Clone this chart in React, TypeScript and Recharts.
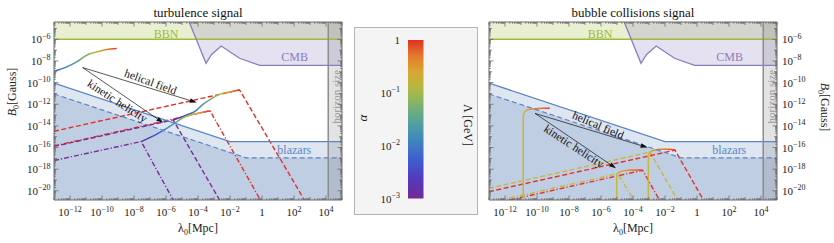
import React from 'react';
import { ComposedChart, Line, Area, XAxis, YAxis, ReferenceDot, ReferenceLine } from 'recharts';

type P = { x: number; y: number };

const SERIF = '"Liberation Serif", "DejaVu Serif", serif';
const FRAME = '#6a6a6a';
const RED = '#e2302a';
const PURPLE = '#7a2c96';
const YELLOW = '#c7b83c';
const DASH = '5 2.5';
const DASHDOT = '5 2 1.2 2';

// everything is log10: x = log10(λ0 / Mpc), y = log10(B0 / Gauss)
const X_MIN = -13;
const X_MAX = 5;
const Y_MIN = -20.85;
const Y_MAX = -4.4;

const xTickExps = [-12, -10, -8, -6, -4, -2, 0, 2, 4];
const yTickExps = [-20, -18, -16, -14, -12, -10, -8, -6];
const alphaTickExps = [0, -1, -2, -3];
const lambdaLabels = ['545', '553', '640', '850'];

// bounds, same in both panels
const bbnBound: P[] = [{ x: -13, y: -6 }, { x: 5, y: -6 }];
const cmbBound: P[] = [
  { x: -4.55, y: -4.4 }, { x: -3.5, y: -8.22 }, { x: -3.15, y: -7.4 }, { x: -2.55, y: -6.62 },
  { x: -1.4, y: -7.75 }, { x: -0.15, y: -8.4 }, { x: 5, y: -8.4 },
];
const horizonEdge: P[] = [{ x: 4.14, y: Y_MIN }, { x: 4.14, y: Y_MAX }];
const horizonBand: P[] = [{ x: 4.14, y: Y_MAX }, { x: 5, y: Y_MAX }];
const blazarSolid: P[] = [{ x: -13, y: -10.05 }, { x: -2.0, y: -15.45 }, { x: 5, y: -15.45 }];
const blazarDashed: P[] = [{ x: -13, y: -11.05 }, { x: -1.0, y: -16.95 }, { x: 5, y: -16.95 }];

// turbulence signal
const turbHelicalRed: P[] = [{ x: -13, y: -14.5 }, { x: -1.4, y: -10.68 }, { x: 2.65, y: -20.85 }];
const turbKineticRed: P[] = [{ x: -13, y: -15.85 }, { x: -3.25, y: -12.6 }, { x: -0.1, y: -20.85 }];
const turbHelicalPurple: P[] = [{ x: -13, y: -15.9 }, { x: -5.55, y: -13.45 }, { x: -2.65, y: -20.85 }];
const turbKineticPurple: P[] = [{ x: -13, y: -17.2 }, { x: -7.55, y: -15.45 }, { x: -5.55, y: -20.85 }];
const turbHelicalPeaks: P[] = [
  { x: -5.55, y: -13.45 }, { x: -4.71, y: -13.0 }, { x: -4.08, y: -12.55 }, { x: -3.77, y: -12.1 },
  { x: -3.14, y: -11.47 }, { x: -2.62, y: -11.07 }, { x: -2.0, y: -10.86 }, { x: -1.4, y: -10.68 },
];
const turbKineticPeaks: P[] = [
  { x: -7.55, y: -15.45 }, { x: -6.69, y: -14.85 }, { x: -6.06, y: -14.33 }, { x: -5.33, y: -13.62 },
  { x: -4.81, y: -13.16 }, { x: -4.08, y: -12.85 }, { x: -3.56, y: -12.7 }, { x: -3.25, y: -12.6 },
];
const turbTopLocus: P[] = [
  { x: -13, y: -8.95 }, { x: -12.21, y: -8.55 }, { x: -11.58, y: -8.09 }, { x: -10.96, y: -7.47 },
  { x: -10.33, y: -7.17 }, { x: -9.71, y: -6.95 }, { x: -9.08, y: -6.85 },
];

// bubble collisions signal
const bubHelicalYellow: P[] = [{ x: -13, y: -19.77 }, { x: -2.95, y: -16.42 }, { x: -1.2, y: -20.85 }];
const bubHelicalRed: P[] = [{ x: -13, y: -20.08 }, { x: -1.375, y: -16.24 }, { x: 0.4, y: -20.85 }];
const bubKineticYellow: P[] = [{ x: -12.3, y: -20.85 }, { x: -4.95, y: -18.42 }, { x: -3.95, y: -20.85 }];
const bubKineticRed: P[] = [{ x: -11.7, y: -20.85 }, { x: -3.4, y: -18.1 }, { x: -2.35, y: -20.85 }];
const bubHelicalPeaks: P[] = [
  { x: -3.04, y: -20.85 }, { x: -3.04, y: -16.8 }, { x: -2.98, y: -16.45 }, { x: -2.8, y: -16.3 },
  { x: -2.4, y: -16.17 }, { x: -1.8, y: -16.15 }, { x: -1.375, y: -16.24 },
];
const bubKineticPeaks: P[] = [
  { x: -5.02, y: -20.85 }, { x: -5.02, y: -18.65 }, { x: -4.95, y: -18.35 }, { x: -4.7, y: -18.18 },
  { x: -4.2, y: -18.08 }, { x: -3.7, y: -18.07 }, { x: -3.4, y: -18.1 },
];
const bubTopLocus: P[] = [
  { x: -10.86, y: -20.85 }, { x: -10.86, y: -13.2 }, { x: -10.8, y: -12.75 }, { x: -10.6, y: -12.5 },
  { x: -10.2, y: -12.42 }, { x: -9.6, y: -12.38 }, { x: -9.2, y: -12.36 },
];

const alphaBar: P[] = [{ x: 0, y: 0 }, { x: 1, y: 0 }];

const RAINBOW: [number, string][] = [
  [0, '#742a94'], [0.12, '#5438bd'], [0.25, '#3f5fd0'], [0.38, '#4189bd'], [0.5, '#58a697'],
  [0.62, '#8cb65e'], [0.7, '#b5b83f'], [0.8, '#d8a632'], [0.9, '#e57a2c'], [1, '#dd3024'],
];
const WARM: [number, string][] = [
  [0, YELLOW], [0.08, '#d3ab36'], [0.35, '#e8922e'], [0.75, '#e8662a'], [1, '#e23a28'],
];
const TOP_GRAD: [number, string][] = [
  [0, '#3f5fd0'], [0.3, '#4595b0'], [0.55, '#8cb65e'], [0.68, '#c0b53a'], [0.8, '#e19030'], [1, '#e23a28'],
];

type Curve = { data: P[]; stroke: string; dash?: string; width?: number; smooth?: boolean };
type Note = { x: number; y: number; text: string; angle?: number; color?: string; size?: number };
type Arrow = { from: P; to: P };
type Grad = { id: string; stops: [number, string][] };

const isInt = (v: number) => Math.abs(v - Math.round(v)) < 1e-6;
const tickLen = (v: number) => (!isInt(v) ? 1.8 : Math.round(v) % 2 === 0 ? 4.5 : 3);

function logTicks(lo: number, hi: number) {
  const out: number[] = [];
  for (let n = Math.floor(lo); n <= Math.ceil(hi); n++) {
    for (let k = 1; k < 10; k++) {
      const v = n + Math.log10(k);
      if (v >= lo && v <= hi) out.push(Number(v.toFixed(4)));
    }
  }
  return out;
}
const xTicks = logTicks(X_MIN, X_MAX);
const yTicks = logTicks(Y_MIN, Y_MAX);

function PowText({ x, y, exp, anchor }: { x: number; y: number; exp: number; anchor: 'start' | 'middle' | 'end' }) {
  return (
    <text x={x} y={y} textAnchor={anchor} fontFamily={SERIF} fontSize={11} fill="#222">
      {exp === 0 ? (
        '1'
      ) : (
        <>
          <tspan>10</tspan>
          <tspan dy={-4.5} fontSize={8}>{exp < 0 ? '\u2212' + -exp : String(exp)}</tspan>
        </>
      )}
    </text>
  );
}

const makeTick = (side: 'bottom' | 'top' | 'left' | 'right', labels: number[] | null) => (props: any) => {
  const { x, y, payload } = props;
  const v = payload.value as number;
  const L = tickLen(v);
  const lab = labels && isInt(v) && labels.includes(Math.round(v)) ? Math.round(v) : null;
  if (side === 'bottom')
    return (
      <g>
        <line x1={x} x2={x} y1={y} y2={y - L} stroke={FRAME} strokeWidth={0.8} />
        {lab !== null && <PowText x={x} y={y + 16} exp={lab} anchor="middle" />}
      </g>
    );
  if (side === 'top') return <line x1={x} x2={x} y1={y} y2={y + L} stroke={FRAME} strokeWidth={0.8} />;
  if (side === 'left')
    return (
      <g>
        <line x1={x} x2={x + L} y1={y} y2={y} stroke={FRAME} strokeWidth={0.8} />
        {lab !== null && <PowText x={x - 3.5} y={y + 4} exp={lab} anchor="end" />}
      </g>
    );
  return (
    <g>
      <line x1={x} x2={x - L} y1={y} y2={y} stroke={FRAME} strokeWidth={0.8} />
      {lab !== null && <PowText x={x + 5} y={y + 4} exp={lab} anchor="start" />}
    </g>
  );
};

const arrowShape = (p: any) => {
  if (p.x1 === undefined) return <g />;
  const { x1, y1, x2, y2 } = p;
  const a = Math.atan2(y2 - y1, x2 - x1);
  const L = 7;
  const W = 2.3;
  const bx = x2 - L * Math.cos(a);
  const by = y2 - L * Math.sin(a);
  const pts = `${x2},${y2} ${bx - W * Math.sin(a)},${by + W * Math.cos(a)} ${bx + W * Math.sin(a)},${by - W * Math.cos(a)}`;
  return (
    <g>
      <line x1={x1} y1={y1} x2={bx} y2={by} stroke="#111" strokeWidth={0.7} />
      <polygon points={pts} fill="#111" />
    </g>
  );
};

function Panel(props: {
  side: 'left' | 'right';
  width: number;
  title: string;
  curves: Curve[];
  notes: Note[];
  arrows: Arrow[];
  grads: Grad[];
}) {
  const { side, width, title, curves, notes, arrows, grads } = props;
  const leftW = side === 'left' ? 54 : 9;
  const rightW = side === 'left' ? 3 : 57;
  const cx = leftW + (width - leftW - rightW) / 2;
  return (
    <ComposedChart width={width} height={243} margin={{ top: 0, right: 0, bottom: 0, left: 0 }}>
      <defs>
        {grads.map((g) => (
          <linearGradient key={g.id} id={g.id} x1="0" y1="0" x2="1" y2="0">
            {g.stops.map(([o, c]) => (
              <stop key={o} offset={o} stopColor={c} />
            ))}
          </linearGradient>
        ))}
      </defs>
      <XAxis
        type="number" dataKey="x" domain={[X_MIN, X_MAX]} allowDataOverflow ticks={xTicks} interval={0}
        tickSize={0} tickMargin={0} tickLine={false} axisLine={{ stroke: FRAME }} height={43}
        tick={makeTick('bottom', xTickExps)}
        label={() => (
          <text x={cx} y={232} textAnchor="middle" fontFamily={SERIF} fontSize={12} fill="#222">
            <tspan>λ</tspan>
            <tspan dy={3} fontSize={8}>0</tspan>
            <tspan dy={-3}>[Mpc]</tspan>
          </text>
        )}
      />
      <XAxis
        xAxisId="top" orientation="top" type="number" dataKey="x" domain={[X_MIN, X_MAX]} allowDataOverflow
        ticks={xTicks} interval={0} tickSize={0} tickMargin={0} tickLine={false} axisLine={{ stroke: FRAME }}
        height={22} tick={makeTick('top', null)}
        label={() => (
          <text x={cx} y={17} textAnchor="middle" fontFamily={SERIF} fontSize={13} fill="#111">
            {title}
          </text>
        )}
      />
      <YAxis
        type="number" domain={[Y_MIN, Y_MAX]} allowDataOverflow ticks={yTicks} interval={0} tickSize={0}
        tickMargin={0} tickLine={false} axisLine={{ stroke: FRAME }} width={leftW}
        tick={makeTick('left', side === 'left' ? yTickExps : null)}
        label={
          side === 'left'
            ? () => (
                <text x={16} y={92} transform="rotate(-90 16 92)" textAnchor="middle" fontFamily={SERIF} fontSize={12} fill="#222">
                  <tspan fontStyle="italic">B</tspan>
                  <tspan dy={3} fontSize={8}>0</tspan>
                  <tspan dy={-3}>[Gauss]</tspan>
                </text>
              )
            : undefined
        }
      />
      <YAxis
        yAxisId="right" orientation="right" type="number" domain={[Y_MIN, Y_MAX]} allowDataOverflow ticks={yTicks}
        interval={0} tickSize={0} tickMargin={0} tickLine={false} axisLine={{ stroke: FRAME }} width={rightW}
        tick={makeTick('right', side === 'right' ? yTickExps : null)}
        label={
          side === 'right'
            ? () => (
                <text x={340.5} y={107} transform="rotate(90 340.5 107)" textAnchor="middle" fontFamily={SERIF} fontSize={12} fill="#222">
                  <tspan fontStyle="italic">B</tspan>
                  <tspan dy={3} fontSize={8}>0</tspan>
                  <tspan dy={-3}>[Gauss]</tspan>
                </text>
              )
            : undefined
        }
      />

      <Area data={blazarSolid} dataKey={(d: P) => [Y_MIN, d.y]} type="linear" stroke="none" fill="#7a9ccc" fillOpacity={0.25} isAnimationActive={false} />
      <Area data={blazarDashed} dataKey={(d: P) => [Y_MIN, d.y]} type="linear" stroke="none" fill="#6f8cbc" fillOpacity={0.27} isAnimationActive={false} />
      <Area data={bbnBound} dataKey={(d: P) => [d.y, Y_MAX]} type="linear" stroke="none" fill="#b5cc6a" fillOpacity={0.3} isAnimationActive={false} />
      <Area data={cmbBound} dataKey={(d: P) => [d.y, Y_MAX]} type="linear" stroke="none" fill="#8878c0" fillOpacity={0.22} isAnimationActive={false} />
      <Area data={horizonBand} dataKey={(d: P) => [Y_MIN, d.y]} type="linear" stroke="none" fill="#808080" fillOpacity={0.22} isAnimationActive={false} />

      {curves.map((c, i) => (
        <Line
          key={i} data={c.data} dataKey="y" type={c.smooth ? 'monotoneX' : 'linear'} stroke={c.stroke}
          strokeWidth={c.width ?? 1.4} strokeDasharray={c.dash} dot={false} activeDot={false} isAnimationActive={false}
        />
      ))}

      <Line data={bbnBound} dataKey="y" type="linear" stroke="#9bbb3a" strokeWidth={1.4} dot={false} activeDot={false} isAnimationActive={false} />
      <Line data={cmbBound} dataKey="y" type="linear" stroke="#8a7cc0" strokeWidth={1.3} dot={false} activeDot={false} isAnimationActive={false} />
      <Line data={blazarSolid} dataKey="y" type="linear" stroke="#5b84c4" strokeWidth={1.3} dot={false} activeDot={false} isAnimationActive={false} />
      <Line data={blazarDashed} dataKey="y" type="linear" stroke="#5b84c4" strokeWidth={1.2} strokeDasharray="5 3" dot={false} activeDot={false} isAnimationActive={false} />
      <Line data={horizonEdge} dataKey="y" type="linear" stroke="#8c8c8c" strokeWidth={1.5} dot={false} activeDot={false} isAnimationActive={false} />

      {arrows.map((a, i) => (
        <ReferenceLine key={'a' + i} segment={[a.from, a.to]} shape={arrowShape} />
      ))}
      {notes.map((n, i) => (
        <ReferenceDot
          key={'n' + i} x={n.x} y={n.y} r={0}
          shape={(p: any) => (
            <text
              x={p.cx} y={p.cy} transform={`rotate(${n.angle ?? 0} ${p.cx} ${p.cy})`} textAnchor="middle"
              dominantBaseline="central" fontFamily={SERIF} fontSize={n.size ?? 11.5} fill={n.color ?? '#111'}
            >
              {n.text}
            </text>
          )}
        />
      ))}
    </ComposedChart>
  );
}

function boundNotes(dx: number): Note[] {
  return [
    { x: -6.0 + dx, y: -5.47, text: 'BBN', color: '#9bbb3a', size: 12 },
    { x: 2.04, y: -7.62, text: 'CMB', color: '#8a7cc0', size: 12 },
    { x: 2.02, y: -16.24, text: 'blazars', color: '#5b84c4', size: 12 },
    { x: 4.64, y: -11.3, text: 'horizon size', angle: -90, color: '#9a9a9a', size: 11 },
  ];
}

function ColorBar() {
  const alphaTick = (p: any) => (
    <PowText x={p.x - 8} y={p.y + 4} exp={p.payload.value} anchor="end" />
  );
  const lambdaTick = (p: any) => {
    const i = alphaTickExps.indexOf(p.payload.value);
    return (
      <g>
        <line x1={p.x} x2={p.x + 3} y1={p.y} y2={p.y} stroke="#555" strokeWidth={0.8} />
        <text x={p.x + 7} y={p.y + 4} fontFamily={SERIF} fontSize={11} fill="#222">
          {lambdaLabels[i]}
        </text>
      </g>
    );
  };
  return (
    <ComposedChart width={122} height={186} margin={{ top: 12, right: 0, bottom: 15.5, left: 0 }}>
      <defs>
        <linearGradient id="cbarGrad" x1="0" y1="1" x2="0" y2="0">
          {RAINBOW.map(([o, c]) => (
            <stop key={o} offset={o} stopColor={c} />
          ))}
        </linearGradient>
      </defs>
      <XAxis type="number" dataKey="x" domain={[0, 1]} hide />
      <YAxis
        type="number" domain={[-3, 0]} ticks={alphaTickExps} interval={0} width={53} axisLine={false}
        tickLine={false} tickSize={0} tickMargin={0} tick={alphaTick}
        label={() => (
          <text x={12} y={90} transform="rotate(-90 12 90)" textAnchor="middle" fontFamily={SERIF} fontSize={13} fontStyle="italic" fill="#222">
            α
          </text>
        )}
      />
      <YAxis
        yAxisId="lam" orientation="right" type="number" domain={[-3, 0]} ticks={alphaTickExps} interval={0}
        width={53.5} axisLine={false} tickLine={false} tickSize={0} tickMargin={0} tick={lambdaTick}
        label={() => (
          <text x={109} y={97} transform="rotate(90 109 97)" textAnchor="middle" fontFamily={SERIF} fontSize={12} fill="#222">
            Λ [GeV]
          </text>
        )}
      />
      <Area data={alphaBar} dataKey={(d: P) => [-3, d.y]} type="linear" stroke="none" fill="url(#cbarGrad)" fillOpacity={1} isAnimationActive={false} />
    </ComposedChart>
  );
}

export default function App() {
  const leftCurves: Curve[] = [
    { data: turbHelicalRed, stroke: RED, dash: DASH },
    { data: turbKineticRed, stroke: RED, dash: DASHDOT },
    { data: turbHelicalPurple, stroke: PURPLE, dash: DASH },
    { data: turbKineticPurple, stroke: PURPLE, dash: DASHDOT },
    { data: turbHelicalPeaks, stroke: 'url(#tHel)', smooth: true, width: 1.5 },
    { data: turbKineticPeaks, stroke: 'url(#tKin)', smooth: true, width: 1.5 },
    { data: turbTopLocus, stroke: 'url(#tTop)', smooth: true, width: 1.5 },
  ];
  const rightCurves: Curve[] = [
    { data: bubHelicalYellow, stroke: YELLOW, dash: DASH },
    { data: bubHelicalRed, stroke: RED, dash: DASH },
    { data: bubKineticYellow, stroke: YELLOW, dash: DASHDOT },
    { data: bubKineticRed, stroke: RED, dash: DASHDOT },
    { data: bubHelicalPeaks, stroke: 'url(#bHel)', width: 1.5 },
    { data: bubKineticPeaks, stroke: 'url(#bKin)', width: 1.5 },
    { data: bubTopLocus, stroke: 'url(#bTop)', width: 1.5 },
  ];
  const leftNotes: Note[] = [
    ...boundNotes(0),
    { x: -6.96, y: -9.92, text: 'helical field', angle: 20 },
    { x: -9.04, y: -11.69, text: 'kinetic helicity', angle: 33 },
  ];
  const rightNotes: Note[] = [
    ...boundNotes(-0.06),
    { x: -6.17, y: -13.93, text: 'helical field', angle: 23 },
    { x: -7.69, y: -15.86, text: 'kinetic helicity', angle: 33 },
  ];
  const leftArrows: Arrow[] = [
    { from: { x: -11.21, y: -8.61 }, to: { x: -4.08, y: -11.84 } },
    { from: { x: -11.21, y: -8.61 }, to: { x: -6.17, y: -13.72 } },
  ];
  const rightArrows: Arrow[] = [
    { from: { x: -10.12, y: -12.85 }, to: { x: -3.09, y: -16.0 } },
    { from: { x: -10.12, y: -12.85 }, to: { x: -5.06, y: -17.92 } },
  ];
  return (
    <div style={{ position: 'absolute', left: 0, top: 0, width: 834, height: 243, background: '#fff', fontFamily: SERIF }}>
      <div style={{ position: 'absolute', left: 0, top: 0 }}>
        <Panel
          side="left" width={345} title="turbulence signal" curves={leftCurves} notes={leftNotes} arrows={leftArrows}
          grads={[
            { id: 'tHel', stops: RAINBOW },
            { id: 'tKin', stops: RAINBOW },
            { id: 'tTop', stops: TOP_GRAD },
          ]}
        />
      </div>
      <div
        style={{
          position: 'absolute', left: 354, top: 27, width: 124, height: 188, boxSizing: 'border-box',
          border: '1px solid #b4b4b4', background: '#f4f4f4',
        }}
      >
        <ColorBar />
      </div>
      <div style={{ position: 'absolute', left: 480, top: 0 }}>
        <Panel
          side="right" width={354} title="bubble collisions signal" curves={rightCurves} notes={rightNotes}
          arrows={rightArrows}
          grads={[
            { id: 'bHel', stops: WARM },
            { id: 'bKin', stops: WARM },
            { id: 'bTop', stops: WARM },
          ]}
        />
      </div>
    </div>
  );
}
